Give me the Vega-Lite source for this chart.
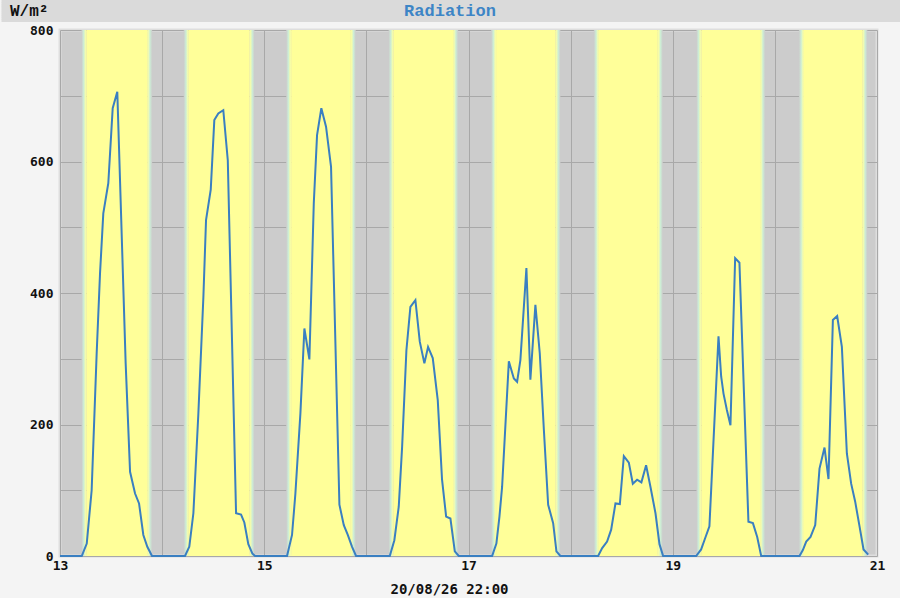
{
  "$schema": "https://vega.github.io/schema/vega-lite/v6.json",
  "background": "#f4f4f4",
  "padding": 0,
  "spacing": 0,
  "config": {
    "view": {"stroke": null},
    "axis": {"domain": false, "ticks": false, "grid": true, "gridColor": "#a8a8a8", "gridWidth": 1, "zindex": 1,
             "labelFont": "DejaVu Sans Mono", "labelFontWeight": "bold", "labelFontSize": 13, "labelColor": "#111111"}
  },
  "datasets": {
    "sun": [
      {"day": 13, "rise": 13.235, "set": 13.878},
      {"day": 14, "rise": 14.236, "set": 14.880},
      {"day": 15, "rise": 15.239, "set": 15.872},
      {"day": 16, "rise": 16.242, "set": 16.874},
      {"day": 17, "rise": 17.246, "set": 17.876},
      {"day": 18, "rise": 18.252, "set": 18.878},
      {"day": 19, "rise": 19.256, "set": 19.880},
      {"day": 20, "rise": 20.260, "set": 20.881}
    ],
    "rad": [
      {"t": 13.0, "v": 0}, {"t": 13.213, "v": 0}, {"t": 13.262, "v": 19}, {"t": 13.310, "v": 100}, {"t": 13.359, "v": 308},
      {"t": 13.392, "v": 430}, {"t": 13.424, "v": 521}, {"t": 13.473, "v": 567}, {"t": 13.516, "v": 681}, {"t": 13.561, "v": 706},
      {"t": 13.643, "v": 293}, {"t": 13.686, "v": 128}, {"t": 13.735, "v": 95}, {"t": 13.774, "v": 80}, {"t": 13.816, "v": 32},
      {"t": 13.855, "v": 14}, {"t": 13.901, "v": 0},
      {"t": 14.224, "v": 0}, {"t": 14.266, "v": 14}, {"t": 14.306, "v": 65}, {"t": 14.355, "v": 217}, {"t": 14.404, "v": 394},
      {"t": 14.430, "v": 511}, {"t": 14.476, "v": 557}, {"t": 14.511, "v": 663}, {"t": 14.550, "v": 673}, {"t": 14.599, "v": 678},
      {"t": 14.643, "v": 602}, {"t": 14.724, "v": 65}, {"t": 14.773, "v": 63}, {"t": 14.805, "v": 51}, {"t": 14.844, "v": 18},
      {"t": 14.883, "v": 4}, {"t": 14.910, "v": 0},
      {"t": 15.223, "v": 0}, {"t": 15.272, "v": 32}, {"t": 15.305, "v": 95}, {"t": 15.354, "v": 217}, {"t": 15.393, "v": 346},
      {"t": 15.442, "v": 299}, {"t": 15.485, "v": 536}, {"t": 15.517, "v": 640}, {"t": 15.559, "v": 681}, {"t": 15.605, "v": 653},
      {"t": 15.654, "v": 592}, {"t": 15.736, "v": 78}, {"t": 15.779, "v": 47}, {"t": 15.818, "v": 32}, {"t": 15.860, "v": 14},
      {"t": 15.899, "v": 0},
      {"t": 16.229, "v": 0}, {"t": 16.274, "v": 24}, {"t": 16.317, "v": 75}, {"t": 16.350, "v": 166}, {"t": 16.392, "v": 313},
      {"t": 16.431, "v": 379}, {"t": 16.480, "v": 389}, {"t": 16.523, "v": 326}, {"t": 16.568, "v": 293}, {"t": 16.604, "v": 318},
      {"t": 16.650, "v": 301}, {"t": 16.699, "v": 237}, {"t": 16.741, "v": 116}, {"t": 16.781, "v": 60}, {"t": 16.823, "v": 57},
      {"t": 16.866, "v": 7}, {"t": 16.905, "v": 0},
      {"t": 17.231, "v": 0}, {"t": 17.273, "v": 19}, {"t": 17.303, "v": 60}, {"t": 17.329, "v": 105}, {"t": 17.395, "v": 296},
      {"t": 17.444, "v": 270}, {"t": 17.476, "v": 265}, {"t": 17.508, "v": 298}, {"t": 17.567, "v": 438}, {"t": 17.606, "v": 268},
      {"t": 17.655, "v": 382}, {"t": 17.698, "v": 308}, {"t": 17.738, "v": 192}, {"t": 17.780, "v": 78}, {"t": 17.829, "v": 50},
      {"t": 17.861, "v": 7}, {"t": 17.900, "v": 0},
      {"t": 18.269, "v": 0}, {"t": 18.309, "v": 12}, {"t": 18.357, "v": 22}, {"t": 18.397, "v": 40}, {"t": 18.439, "v": 80},
      {"t": 18.482, "v": 79}, {"t": 18.521, "v": 152}, {"t": 18.570, "v": 142}, {"t": 18.609, "v": 110}, {"t": 18.651, "v": 116},
      {"t": 18.693, "v": 112}, {"t": 18.739, "v": 138}, {"t": 18.782, "v": 105}, {"t": 18.831, "v": 65}, {"t": 18.870, "v": 18},
      {"t": 18.906, "v": 0},
      {"t": 19.229, "v": 0}, {"t": 19.278, "v": 10}, {"t": 19.317, "v": 27}, {"t": 19.359, "v": 45}, {"t": 19.448, "v": 334},
      {"t": 19.474, "v": 273}, {"t": 19.497, "v": 247}, {"t": 19.530, "v": 222}, {"t": 19.565, "v": 199}, {"t": 19.611, "v": 453},
      {"t": 19.653, "v": 446}, {"t": 19.741, "v": 52}, {"t": 19.785, "v": 50}, {"t": 19.827, "v": 29}, {"t": 19.866, "v": 0},
      {"t": 20.241, "v": 0}, {"t": 20.274, "v": 9}, {"t": 20.307, "v": 22}, {"t": 20.349, "v": 29}, {"t": 20.395, "v": 47},
      {"t": 20.437, "v": 133}, {"t": 20.486, "v": 165}, {"t": 20.525, "v": 117}, {"t": 20.568, "v": 359}, {"t": 20.610, "v": 365},
      {"t": 20.656, "v": 318}, {"t": 20.705, "v": 156}, {"t": 20.747, "v": 110}, {"t": 20.786, "v": 83}, {"t": 20.829, "v": 45},
      {"t": 20.868, "v": 10}, {"t": 20.914, "v": 2}
    ]
  },
  "vconcat": [
    {
      "width": 840,
      "height": 22,
      "view": {"fill": "#dadada", "stroke": null},
      "data": {"values": [{"name": "Radiation"}]},
      "mark": {"type": "text", "font": "Liberation Mono", "fontWeight": "bold", "fontSize": 17, "color": "#3d85c6", "dx": -30},
      "encoding": {
        "text": {"field": "name", "type": "nominal"},
        "y": {"datum": 0, "type": "quantitative", "title": null,
              "scale": {"domain": [-1, 1]},
              "axis": {"values": [0.886, 0.709, 0.532, 0.354, 0.177, 0, -0.177, -0.354, -0.532, -0.709, -0.886],
                       "labelExpr": "datum.value == 0 ? 'W/m²' : ''", "grid": false, "domain": false, "translate": 0,
                       "ticks": true, "tickSize": 58.5, "tickWidth": 2.5, "tickColor": "#dadada", "tickRound": false,
                       "labelPadding": -8.5, "labelAlign": "left", "labelBaseline": "middle", "labelOverlap": false, "labelBound": false,
                       "labelFont": "Liberation Mono", "labelFontWeight": "bold",
                       "labelFontSize": {"condition": {"test": "datum.value == 0", "value": 16}, "value": 0},
                       "labelColor": "#111111",
                       "minExtent": 58, "maxExtent": 58, "zindex": 0}}
      }
    },
    {
      "width": 817,
      "height": 526,
      "view": {"fill": "#cccccc", "stroke": "#dedede", "strokeWidth": 3},
      "layer": [
        {
          "data": {"name": "sun"},
          "mark": {"type": "rect", "color": "#ffff99", "xOffset": 2.5, "x2Offset": -2.5},
          "encoding": {
            "x": {"field": "rise", "type": "quantitative", "title": "20/08/26 22:00",
                  "scale": {"domain": [13, 21], "nice": false, "zero": false},
                  "axis": {"values": [13, 14, 15, 16, 17, 18, 19, 20, 21], "format": "d",
                           "labelExpr": "datum.value % 2 == 1 ? datum.label : ''",
                           "labelFlush": false, "labelPadding": 3,
                           "titleX": 389, "titleY": 33, "titleBaseline": "middle", "titleAlign": "center",
                           "titleFont": "DejaVu Sans Mono", "titleFontWeight": "bold", "titleFontSize": 14, "titleColor": "#111111"}},
            "x2": {"field": "set"},
            "y": {"datum": 0, "type": "quantitative", "title": null,
                  "scale": {"domain": [0, 800], "nice": false},
                  "axis": {"values": [0, 100, 200, 300, 400, 500, 600, 700, 800],
                           "labelExpr": "datum.value % 200 == 0 ? datum.label : ''",
                           "labelPadding": 7, "minExtent": 58, "maxExtent": 58}},
            "y2": {"datum": 800}
          }
        },
        {
          "data": {"name": "sun"},
          "mark": {"type": "rect", "xOffset": -2.5, "x2Offset": 2.5,
                   "color": {"gradient": "linear", "stops": [
                     {"offset": 0, "color": "#cccccc"},
                     {"offset": 0.45, "color": "#cdeed6"},
                     {"offset": 0.75, "color": "#effbb2"},
                     {"offset": 1, "color": "#ffff99"}]}},
          "encoding": {
            "x": {"field": "rise", "type": "quantitative", "title": "20/08/26 22:00"},
            "x2": {"field": "rise"},
            "y": {"datum": 0, "type": "quantitative", "title": null},
            "y2": {"datum": 800}
          }
        },
        {
          "data": {"name": "sun"},
          "mark": {"type": "rect", "xOffset": -2.5, "x2Offset": 2.5,
                   "color": {"gradient": "linear", "stops": [
                     {"offset": 0, "color": "#ffff99"},
                     {"offset": 0.25, "color": "#effbb2"},
                     {"offset": 0.55, "color": "#cdeed6"},
                     {"offset": 1, "color": "#cccccc"}]}},
          "encoding": {
            "x": {"field": "set", "type": "quantitative", "title": "20/08/26 22:00"},
            "x2": {"field": "set"},
            "y": {"datum": 0, "type": "quantitative", "title": null},
            "y2": {"datum": 800}
          }
        },
        {
          "data": {"name": "rad"},
          "mark": {"type": "line", "color": "#3a7fc1", "strokeWidth": 2},
          "encoding": {
            "x": {"field": "t", "type": "quantitative", "title": "20/08/26 22:00"},
            "y": {"field": "v", "type": "quantitative", "title": null}
          }
        }
      ]
    }
  ]
}
